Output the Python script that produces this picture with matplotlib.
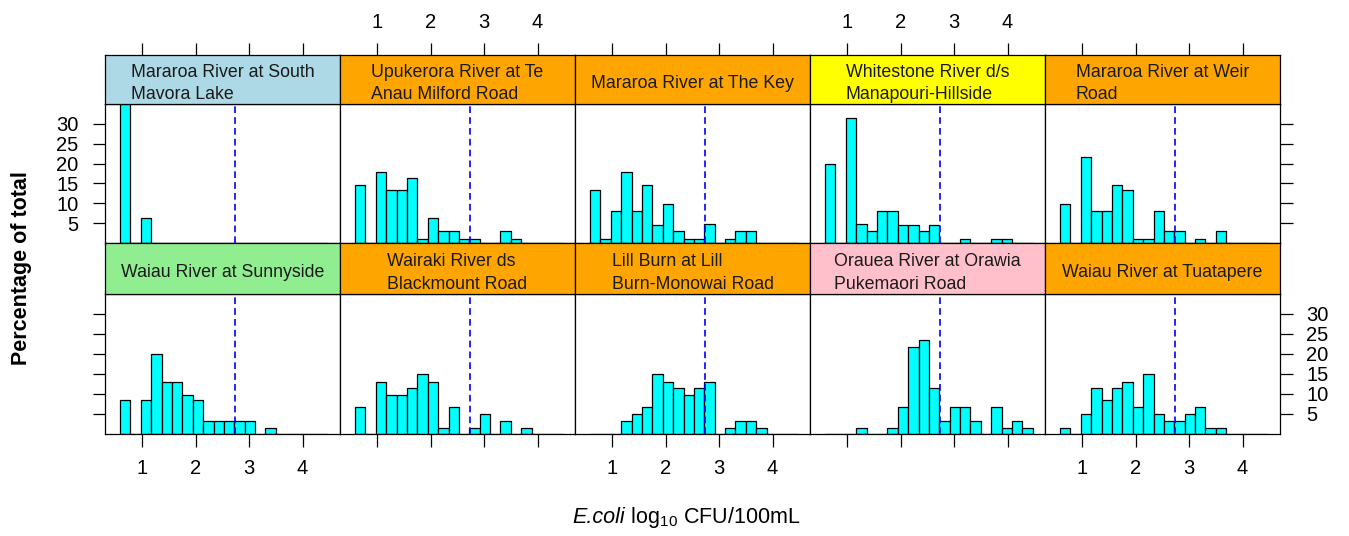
import numpy as np
import matplotlib
matplotlib.use("Agg")
import matplotlib.pyplot as plt

plt.rcParams['font.family'] = ['Liberation Sans', 'DejaVu Sans']
plt.rcParams['mathtext.fontset'] = 'custom'
plt.rcParams['mathtext.rm'] = 'Liberation Sans'
plt.rcParams['mathtext.it'] = 'Liberation Sans:italic'

# Histogram breaks shared by all sites (log10 CFU/100mL)
bin_start = 0.582
bin_width = 0.1945
n_bins = 20
guideline = np.log10(540)

sites = [
    "Mararoa River at South\nMavora Lake",
    "Upukerora River at Te\nAnau Milford Road",
    "Mararoa River at The Key",
    "Whitestone River d/s\nManapouri-Hillside",
    "Mararoa River at Weir\nRoad",
    "Waiau River at Sunnyside",
    "Wairaki River ds\nBlackmount Road",
    "Lill Burn at Lill\nBurn-Monowai Road",
    "Orauea River at Orawia\nPukemaori Road",
    "Waiau River at Tuatapere",
]
strip_colours = ["lightblue", "orange", "orange", "yellow", "orange",
                 "lightgreen", "orange", "orange", "pink", "orange"]

# Percentage of samples in each bin, one list per site
pct_south_mavora = [93.6, 0, 6.4, 0, 0, 0, 0, 0, 0, 0, 0, 0, 0, 0, 0, 0, 0, 0, 0, 0]
pct_upukerora = [14.6, 0, 17.9, 13.3, 13.3, 16.3, 1.1, 6.4, 2.9, 2.9, 1.1, 1.1, 0, 0, 2.9, 1.1, 0, 0, 0, 0]
pct_the_key = [13.3, 1.1, 8.1, 17.9, 8.1, 14.6, 4.6, 9.9, 2.9, 1.1, 1.1, 4.7, 0, 1.1, 2.9, 2.9, 0, 0, 0, 0]
pct_whitestone = [19.8, 0, 31.5, 4.7, 2.9, 8.1, 8.1, 4.6, 4.6, 2.9, 4.6, 0, 0, 1.1, 0, 0, 1.1, 1.1, 0, 0]
pct_weir_road = [9.9, 0, 21.6, 8.1, 8.1, 14.6, 13.3, 1.1, 1.1, 8.1, 2.9, 2.9, 0, 1.1, 0, 2.9, 0, 0, 0, 0]
pct_sunnyside = [8.3, 0, 8.3, 20.0, 13.0, 13.0, 9.6, 8.3, 3.1, 3.1, 3.1, 3.1, 3.1, 0, 1.3, 0, 0, 0, 0, 0]
pct_wairaki = [6.6, 0, 13.0, 9.6, 9.6, 11.3, 14.8, 13.0, 1.3, 6.6, 0, 1.3, 4.9, 0, 3.1, 0, 1.3, 0, 0, 0]
pct_lill_burn = [0, 0, 0, 3.1, 4.9, 6.6, 14.8, 13.0, 11.3, 9.6, 11.3, 13.0, 0, 1.3, 3.1, 3.1, 1.3, 0, 0, 0]
pct_orauea = [0, 0, 0, 1.3, 0, 0, 1.3, 6.6, 21.6, 23.5, 11.3, 3.1, 6.6, 6.6, 3.1, 0, 6.6, 1.3, 3.1, 1.3]
pct_tuatapere = [1.3, 0, 4.9, 11.3, 8.3, 11.3, 13.0, 6.6, 14.8, 4.9, 3.1, 3.1, 4.9, 6.6, 1.3, 1.3, 0, 0, 0, 0]

percentages = [pct_south_mavora, pct_upukerora, pct_the_key, pct_whitestone, pct_weir_road,
               pct_sunnyside, pct_wairaki, pct_lill_burn, pct_orauea, pct_tuatapere]

x_ticks = [1, 2, 3, 4]
y_ticks = [5, 10, 15, 20, 25, 30]
xlim = (0.30, 4.70)
ylim = (0, 35)

W, H = 1349, 536
fig = plt.figure(figsize=(W / 100, H / 100), dpi=100)


def rect(x0, y0, x1, y1):
    return [x0 / W, 1 - y1 / H, (x1 - x0) / W, (y1 - y0) / H]


col_left = 105
col_w = 235
rows = [  # (strip top, strip bottom / panel top, panel bottom)
    (54.5, 104, 243),
    (243, 293.5, 433.5),
]
tick_len = 9
tick_fs = 14.5
edges = bin_start + bin_width * np.arange(n_bins + 1)

for k, (site, colour, pct) in enumerate(zip(sites, strip_colours, percentages)):
    r, c = divmod(k, 5)
    s_top, p_top, p_bot = rows[r]
    x0 = col_left + c * col_w
    x1 = x0 + col_w

    ax = fig.add_axes(rect(x0, p_top, x1, p_bot))
    ax.bar(edges[:-1], pct, width=bin_width, align='edge', color='cyan',
           edgecolor='black', linewidth=0.9, zorder=2)
    ax.axvline(guideline, color='blue', linestyle=(0, (4, 2.5)), linewidth=1.2, zorder=3)
    ax.set_xlim(*xlim)
    ax.set_ylim(*ylim)
    for sp in ax.spines.values():
        sp.set_linewidth(0.9)
    ax.tick_params(direction='out', length=tick_len, width=0.9, labelsize=tick_fs)
    ax.set_yticks(y_ticks)
    ax.set_xticks(x_ticks)

    left = c == 0
    right = c == 4
    ax.tick_params(axis='y', left=left, right=right,
                   labelleft=left and r == 0, labelright=right and r == 1,
                   pad=10)
    ax.tick_params(axis='x', bottom=(r == 1), top=False,
                   labelbottom=(r == 1 and c % 2 == 0), labeltop=False, pad=9)

    sax = fig.add_axes(rect(x0, s_top, x1, p_top))
    sax.set_facecolor(colour)
    sax.set_xlim(*xlim)
    sax.set_ylim(0, 1)
    sax.set_yticks([])
    for sp in sax.spines.values():
        sp.set_linewidth(0.9)
    if r == 0:
        sax.set_xticks(x_ticks)
        sax.tick_params(axis='x', bottom=False, labelbottom=False, top=True,
                        labeltop=(c % 2 == 1), direction='out', length=tick_len,
                        width=0.9, labelsize=tick_fs, pad=7)
    else:
        sax.set_xticks([])
    sax.text(0.5, 0.41, site, transform=sax.transAxes, ha='center', va='center',
             multialignment='left', fontsize=12.8, linespacing=1.42, color='#1a1a1a')

fig.text(22 / W, 1 - 268 / H, "Percentage of total", rotation=90, ha='center',
         va='center', fontsize=15.5, fontweight='bold')

# x-axis title: italic organism name followed by the unit, centred under the panels
lab_fs = 15.5
t_it = fig.text(0, 1 - 517 / H, "E.coli", style='italic', ha='left',
                va='baseline', fontsize=lab_fs)
t_rest = fig.text(0, 1 - 517 / H, r" log$_{10}$ CFU/100mL", ha='left',
                  va='baseline', fontsize=lab_fs)
renderer = fig.canvas.get_renderer()
w_it = t_it.get_window_extent(renderer).width
w_rest = t_rest.get_window_extent(renderer).width
total = w_it + w_rest
start = 686 - total / 2
base_y = 1 - 523 / H
t_it.set_position((start / W, base_y))
t_rest.set_position(((start + w_it) / W, base_y))

fig.savefig("out.png", dpi=100)
